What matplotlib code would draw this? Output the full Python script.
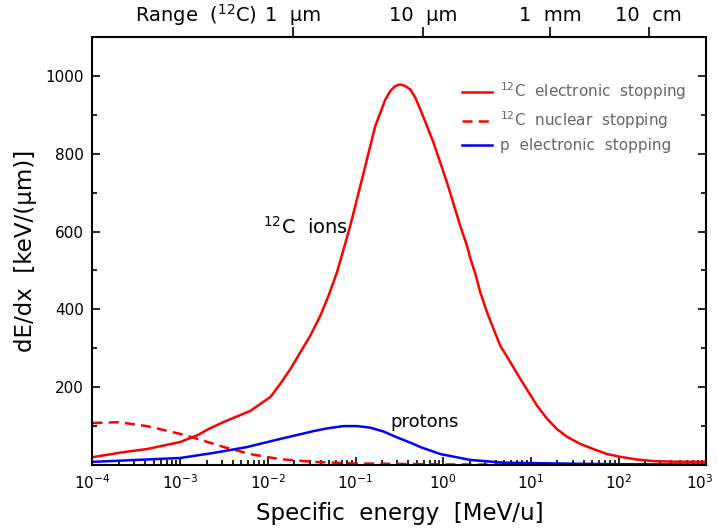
import matplotlib
matplotlib.use('Agg')
import matplotlib.pyplot as plt
import matplotlib.transforms as mtransforms
import numpy as np
from matplotlib.ticker import FixedLocator, NullFormatter, LogFormatterSciNotation

plt.rcParams['font.family'] = ['DejaVu Sans']
plt.rcParams['mathtext.default'] = 'regular'

# 12C electronic stopping (log10 of MeV/u, keV/um)
c_elec_logE = [-4.0, -3.65, -3.38, -3.0, -2.8, -2.68, -2.51, -2.2, -1.97, -1.86,
               -1.745, -1.631, -1.517, -1.403, -1.308, -1.212, -1.137, -1.061,
               -1.003, -0.946, -0.889, -0.832, -0.775, -0.718, -0.661, -0.604,
               -0.547, -0.490, -0.432, -0.375, -0.318, -0.261, -0.185, -0.110,
               -0.033, 0.043, 0.119, 0.195, 0.272, 0.309, 0.367, 0.424, 0.500,
               0.575, 0.652, 0.766, 0.880, 0.994, 1.071, 1.188, 1.299, 1.416,
               1.565, 1.714, 1.870, 2.02, 2.212, 2.40, 2.63, 3.0]
c_elec_val = [20, 33, 41, 59, 77, 92, 110, 139, 175, 208,
              246, 289, 332, 383, 435, 495, 554, 614,
              666, 717, 768, 820, 871, 905, 939, 961,
              974, 978, 974, 965, 944, 914, 871, 828,
              777, 726, 670, 614, 563, 531, 491, 443, 392,
              349, 306, 264, 221, 180, 152, 118, 92, 72,
              54, 41, 28, 21, 14, 10, 8.5, 8]

# 12C nuclear stopping
c_nuc_logE = [-4.0, -3.7, -3.38, -3.0, -2.8, -2.5, -2.2, -1.86, -1.48, -1.0, 0.0, 1.0]
c_nuc_val = [108, 110, 100, 80, 67, 46, 28, 15, 8, 4, 1.5, 0.5]

# proton electronic stopping
p_elec_logE = [-4.0, -3.0, -2.62, -2.24, -1.86, -1.669, -1.48, -1.327, -1.137,
               -0.984, -0.832, -0.68, -0.527, -0.338, -0.26, -0.03, 0.31, 0.69,
               1.26, 2.0, 3.0]
p_elec_val = [8, 18, 31, 46, 67, 77, 87, 94, 100,
              100, 96, 86, 71, 54, 46, 28, 13, 6,
              4, 2, 1]

# range of 12C on the top axis
range_E = [0.0195, 0.593, 16.7, 220.0]
range_labels = ['1  \u03bcm', '10  \u03bcm', '1  mm', '10  cm']

decades = [1e-4, 1e-3, 1e-2, 1e-1, 1e0, 1e1, 1e2, 1e3]
minor_E = [m * d for d in decades[:-1] for m in range(2, 10)]

fig = plt.figure(figsize=(7.17, 5.31), dpi=100)
ax = fig.add_axes([0.129, 0.1243, 0.856, 0.806])

ax.plot(10 ** np.array(c_elec_logE), c_elec_val, color='#ff0000', lw=1.8,
        label=r'$^{12}$C  electronic  stopping')
ax.plot(10 ** np.array(c_nuc_logE), c_nuc_val, color='#ff0000', lw=1.8,
        linestyle=(0, (4, 2.5)), label=r'$^{12}$C  nuclear  stopping')
ax.plot(10 ** np.array(p_elec_logE), p_elec_val, color='#0000ff', lw=1.8,
        label='p  electronic  stopping')

ax.set_xscale('log')
ax.set_xlim(1e-4, 1e3)
ax.set_ylim(0, 1100)
ax.set_yticks([200, 400, 600, 800, 1000])
ax.yaxis.set_minor_locator(FixedLocator([100, 300, 500, 700, 900]))
ax.xaxis.set_major_locator(FixedLocator(decades))
ax.xaxis.set_minor_locator(FixedLocator(minor_E))
ax.xaxis.set_major_formatter(LogFormatterSciNotation())
ax.xaxis.set_minor_formatter(NullFormatter())

ax.tick_params(which='both', direction='in', top=True, right=True, width=1.2,
               labelsize=11, pad=6)
ax.tick_params(which='major', length=6)
ax.tick_params(which='minor', length=3.5)
for s in ax.spines.values():
    s.set_linewidth(1.5)

ax.set_xlabel('Specific  energy  [MeV/u]', fontsize=16.5, labelpad=7)
ax.set_ylabel('dE/dx  [keV/(\u03bcm)]', fontsize=16.5, labelpad=6)

ax.text(0.0267, 611, r'$^{12}$C  ions', fontsize=14, ha='center', va='center')
ax.text(0.25, 110, 'protons', fontsize=13, ha='left', va='center')

leg = ax.legend(loc='upper right', bbox_to_anchor=(0.99, 0.93), frameon=False,
                fontsize=11, handlelength=2.0, handletextpad=0.5, labelspacing=0.45)
for t in leg.get_texts():
    t.set_color('#666666')

ax2 = ax.twiny()
ax2.set_xscale('log')
ax2.set_xlim(ax.get_xlim())
ax2.xaxis.set_major_locator(FixedLocator(range_E))
ax2.xaxis.set_minor_locator(FixedLocator([]))
ax2.set_xticklabels(range_labels)
ax2.tick_params(which='major', direction='out', length=7, width=1.2,
                labelsize=14, pad=2)
for s in ax2.spines.values():
    s.set_visible(False)

fig.text(0.358, 0.972, r'Range  ($^{12}$C)', fontsize=14, ha='right', va='center')

# keep the last energy label inside the figure
fig.canvas.draw()
last = ax.xaxis.get_major_ticks()[-1].label1
last.set_transform(last.get_transform() +
                   mtransforms.ScaledTranslation(-5 / 72, 0, fig.dpi_scale_trans))

fig.savefig('out.png', dpi=100)
